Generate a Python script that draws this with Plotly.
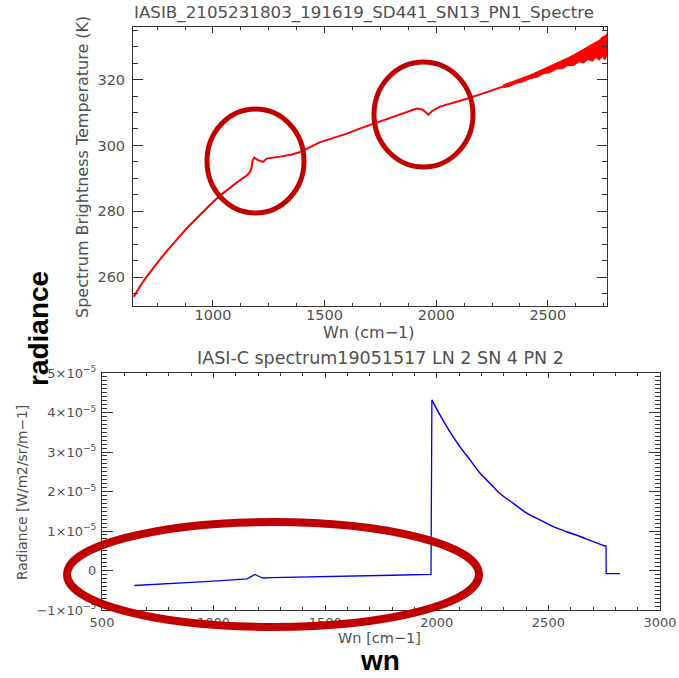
import plotly.graph_objects as go

W, H = 679, 678

# ---------------- data: top panel (brightness temperature) ----------------
bt_wn = [645, 660, 680, 700, 730, 763, 800, 840, 880, 920, 960, 1000, 1040, 1080, 1120,
         1150, 1165, 1172, 1178, 1185, 1200, 1225, 1240, 1300, 1350, 1390, 1440, 1480,
         1540, 1600, 1660, 1720, 1780, 1823, 1870, 1913, 1935, 1950, 1965, 1980, 2017,
         2080, 2137, 2200, 2250, 2300]
bt_k = [254.0, 255.8, 257.9, 259.8, 262.6, 265.4, 268.4, 271.6, 274.6, 277.4, 280.2, 282.8,
        285.2, 287.4, 289.4, 290.8, 291.8, 293.0, 295.5, 296.3, 295.6, 295.0, 296.0, 296.6,
        297.2, 298.0, 299.6, 301.0, 302.3, 303.6, 305.2, 306.6, 308.0, 309.1, 310.2, 311.2,
        311.0, 310.3, 309.3, 310.4, 311.8, 313.0, 314.2, 315.6, 316.7, 317.9]
# noisy tail: upper and lower envelope of the spectrum
band_wn = [2300, 2330, 2360, 2390, 2420, 2450, 2480, 2510, 2540, 2565, 2590, 2615, 2640,
           2660, 2680, 2700, 2715, 2730, 2745, 2755, 2765]
band_hi = [318.4, 319.1, 319.8, 320.6, 321.4, 322.3, 323.2, 324.1, 325.05, 325.8, 326.65,
           327.5, 328.5, 329.2, 330.1, 330.8, 331.6, 332.0, 333.05, 333.2, 334.1]
band_lo = [317.5, 318.0, 318.9, 319.35, 320.3, 320.7, 321.75, 322.15, 323.25, 323.3, 324.3,
           324.25, 325.45, 325.05, 326.15, 325.6, 326.75, 325.9, 327.1, 326.0, 327.25]

# ---------------- data: bottom panel (radiance) ----------------
# baseline + jump, decay after the jump, and the final drop
base_wn = [645, 700, 800, 900, 1000, 1100, 1150, 1170, 1185, 1200, 1220, 1260, 1400, 1600,
           1800, 1974, 1975, 1977, 1978]
base_val = [-0.38e-5, -0.36e-5, -0.33e-5, -0.30e-5, -0.27e-5, -0.23e-5, -0.21e-5, -0.15e-5,
            -0.10e-5, -0.14e-5, -0.19e-5, -0.18e-5, -0.16e-5, -0.14e-5, -0.12e-5, -0.10e-5,
            2.79e-5, 2.80e-5, 4.32e-5]
decay_wn = [1978, 2014, 2059, 2104, 2149, 2194, 2238, 2283, 2343, 2403, 2462, 2522, 2582,
            2642, 2701, 2754]
decay_val = [4.32e-5, 3.94e-5, 3.51e-5, 3.13e-5, 2.80e-5, 2.46e-5, 2.21e-5, 1.95e-5,
             1.70e-5, 1.45e-5, 1.28e-5, 1.11e-5, 0.98e-5, 0.86e-5, 0.73e-5, 0.62e-5]
tail_wn = [2754, 2758, 2759, 2821]
tail_val = [0.62e-5, 0.62e-5, -0.08e-5, -0.08e-5]

rad_tickvals = [-1e-5, 0, 1e-5, 2e-5, 3e-5, 4e-5, 5e-5]
rad_ticktext = ["\u22121\u00d710<sup>\u22125</sup>", "0", "1\u00d710<sup>\u22125</sup>",
                "2\u00d710<sup>\u22125</sup>", "3\u00d710<sup>\u22125</sup>",
                "4\u00d710<sup>\u22125</sup>", "5\u00d710<sup>\u22125</sup>"]

FONT = "DejaVu Sans"
AX = "#333333"
TXT = "#505050"


def px(x):
    return x / W


def py(y):
    return 1 - y / H


fig = go.Figure()

# top panel
fig.add_trace(go.Scatter(x=bt_wn, y=bt_k, mode="lines", line=dict(color="#ff0000", width=2),
                         xaxis="x", yaxis="y", hoverinfo="skip"))
fig.add_trace(go.Scatter(x=band_wn, y=band_lo, mode="lines", line=dict(color="#ff0000", width=1),
                         xaxis="x", yaxis="y", hoverinfo="skip"))
fig.add_trace(go.Scatter(x=band_wn, y=band_hi, mode="lines", line=dict(color="#ff0000", width=1),
                         fill="tonexty", fillcolor="#ff0000", xaxis="x", yaxis="y", hoverinfo="skip"))

# bottom panel
BLUE = "#0000ff"
fig.add_trace(go.Scatter(x=base_wn, y=base_val, mode="lines", line=dict(color=BLUE, width=1.3),
                         xaxis="x2", yaxis="y2", hoverinfo="skip"))
fig.add_trace(go.Scatter(x=decay_wn, y=decay_val, mode="lines",
                         line=dict(color=BLUE, width=1.5, shape="spline", smoothing=0.8),
                         xaxis="x2", yaxis="y2", hoverinfo="skip"))
fig.add_trace(go.Scatter(x=tail_wn, y=tail_val, mode="lines", line=dict(color=BLUE, width=1.3),
                         xaxis="x2", yaxis="y2", hoverinfo="skip"))

common = dict(showgrid=False, zeroline=False, showline=True, linecolor=AX, linewidth=1,
              mirror="allticks", ticks="inside", tickcolor=AX, tickwidth=1, automargin=False,
              tickfont=dict(family=FONT, size=14.5, color=TXT))
small = {**common, "tickfont": dict(family=FONT, size=13, color=TXT)}

fig.update_layout(
    width=W, height=H, margin=dict(l=0, r=0, t=0, b=0, autoexpand=False),
    paper_bgcolor="white", plot_bgcolor="white", showlegend=False,
    xaxis=dict(domain=[px(133), px(607)], range=[642, 2765], tick0=0, dtick=500,
               ticklen=6, ticklabelstandoff=-4,
               minor=dict(dtick=125, ticklen=3, ticks="inside", tickcolor=AX),
               anchor="y", **common),
    yaxis=dict(domain=[py(306), py(27)], range=[251.2, 336], tick0=0, dtick=20,
               ticklen=10, ticklabelstandoff=4,
               minor=dict(dtick=5, ticklen=5, ticks="inside", tickcolor=AX),
               anchor="x", **common),
    xaxis2=dict(domain=[px(102), px(660)], range=[500, 3000], tick0=0, dtick=500,
                ticklen=5, minor=dict(dtick=100, ticklen=3, ticks="inside", tickcolor=AX),
                anchor="y2", **small),
    yaxis2=dict(domain=[py(610), py(373)], range=[-1e-5, 5e-5], tickvals=rad_tickvals,
                ticktext=rad_ticktext, ticklen=11, ticklabelstandoff=2,
                minor=dict(dtick=1e-6, ticklen=5, ticks="inside", tickcolor=AX),
                anchor="x2", **small),
)

ann = [
    dict(text="IASIB_2105231803_191619_SD441_SN13_PN1_Spectre", x=px(364), y=py(13),
         font=dict(family=FONT, size=16.7, color=TXT)),
    dict(text="Wn (cm\u22121)", x=px(369), y=py(332), font=dict(family=FONT, size=16, color=TXT)),
    dict(text="Spectrum Brightness Temperature (K)", x=px(83), y=py(167), textangle=-90,
         font=dict(family=FONT, size=16, color=TXT)),
    dict(text="IASI-C spectrum19051517 LN 2 SN 4 PN 2", x=px(380), y=py(358),
         font=dict(family=FONT, size=17.5, color=TXT)),
    dict(text="Radiance [W/m2/sr/m\u22121]", x=px(22), y=py(493), textangle=-90,
         font=dict(family=FONT, size=13.8, color=TXT)),
    dict(text="Wn [cm\u22121]", x=px(379), y=py(638), font=dict(family=FONT, size=14.5, color=TXT)),
    dict(text="<b>radiance</b>", x=px(38), y=py(329), textangle=-90,
         font=dict(family="Liberation Sans", size=28, color="black")),
    dict(text="<b>wn</b>", x=px(380), y=py(660), font=dict(family="Liberation Sans", size=28, color="black")),
]
for a in ann:
    a.update(xref="paper", yref="paper", showarrow=False, xanchor="center", yanchor="middle")
fig.update_layout(annotations=ann)

RED = "#c00000"
fig.update_layout(shapes=[
    dict(type="circle", xref="paper", yref="paper", x0=px(207), x1=px(304), y0=py(213), y1=py(109),
         line=dict(color=RED, width=5)),
    dict(type="circle", xref="paper", yref="paper", x0=px(374), x1=px(473), y0=py(167), y1=py(62),
         line=dict(color=RED, width=5)),
    dict(type="circle", xref="paper", yref="paper", x0=px(67), x1=px(479), y0=py(627), y1=py(522),
         line=dict(color=RED, width=8)),
])

fig.write_html("out.html")
